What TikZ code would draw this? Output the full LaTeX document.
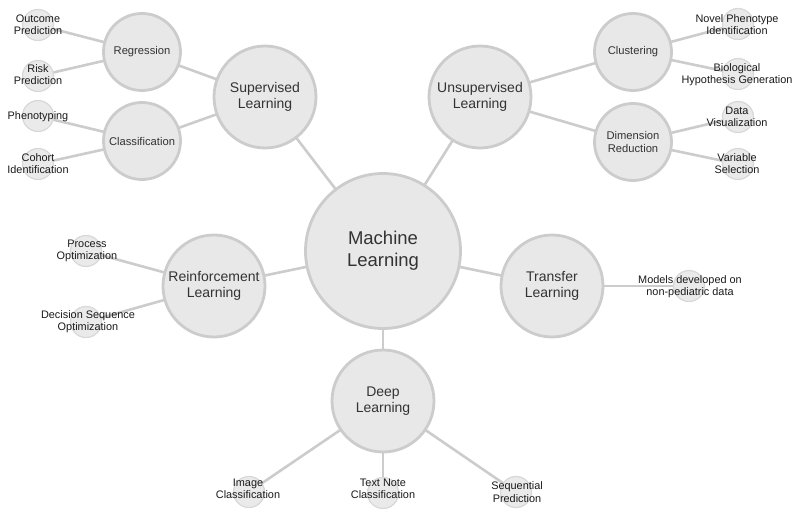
\documentclass[tikz,border=0pt]{standalone}
\usepackage{fontspec}
\setmainfont{Liberation Sans}
\usetikzlibrary{backgrounds}

\definecolor{nodefill}{HTML}{E8E8E8}
\definecolor{leaffill}{HTML}{EAEAEA}
\definecolor{nodeline}{HTML}{CCCCCC}
\definecolor{leafline}{HTML}{D8D8D8}
\definecolor{textgray}{HTML}{333333}
\definecolor{leaftextc}{HTML}{1A1A1A}

\begin{document}
\begin{tikzpicture}[
    x=1pt, y=-1pt,
    bubble/.style={circle, draw=nodeline, fill=nodefill, line width=2.8pt, inner sep=0pt, align=center, text=textgray},
    root/.style={bubble, minimum size=155pt, font=\fontsize{18.5}{22}\selectfont},
    topic/.style={bubble, minimum size=102pt, font=\fontsize{14}{16}\selectfont},
    method/.style={bubble, minimum size=77pt, font=\fontsize{11.2}{12.5}\selectfont},
    leaf/.style={circle, draw=leafline, fill=leaffill, line width=1.2pt, minimum size=31pt, inner sep=0pt},
    leaftext/.style={align=center, inner sep=0pt, text=leaftextc, font=\fontsize{10.9}{12.2}\selectfont},
    link/.style={draw=nodeline, line width=2.6pt}
]
    \useasboundingbox (0,0) rectangle (800,513);

    % main topics
    \node [root] (ml) at (383,251) {Machine\\Learning};
    \node [topic] (sl) at (265,97) {Supervised\\Learning};
    \node [topic] (ul) at (480,97) {Unsupervised\\Learning};
    \node [topic] (rl) at (214,286) {Reinforcement\\Learning};
    \node [topic] (tl) at (552,286) {Transfer\\Learning};
    \node [topic] (dl) at (383,401) {Deep\\Learning};

    % methods
    \node [method] (reg) at (142,52) {Regression};
    \node [method] (cls) at (142,141) {Classification};
    \node [method] (clu) at (633,52) {Clustering};
    \node [method] (dim) at (633,142) {Dimension\\Reduction};

    % applications
    \node [leaf] (outc) at (38,25) {};
    \node [leaf] (risk) at (38,76) {};
    \node [leaf] (phen) at (38,116) {};
    \node [leaf] (coho) at (38,164) {};
    \node [leaf] (novel) at (738,24) {};
    \node [leaf] (bio) at (738,74) {};
    \node [leaf] (vis) at (738,117) {};
    \node [leaf] (var) at (738,164) {};
    \node [leaf] (proc) at (86,251) {};
    \node [leaf] (dec) at (86,322) {};
    \node [leaf] (mod) at (689,286) {};
    \node [leaf] (img) at (249,492) {};
    \node [leaf] (txt) at (383,493) {};
    \node [leaf] (seq) at (516,492) {};

    \node [leaftext] (outc-l) at (38,25) {Outcome\\Prediction};
    \node [leaftext] (risk-l) at (38,75) {Risk\\Prediction};
    \node [leaftext] (phen-l) at (38,117) {Phenotyping};
    \node [leaftext] (coho-l) at (38,164) {Cohort\\Identification};
    \node [leaftext] (novel-l) at (737,25) {Novel Phenotype\\Identification};
    \node [leaftext] (bio-l) at (737,75) {Biological\\Hypothesis Generation};
    \node [leaftext] (vis-l) at (737,117) {Data\\Visualization};
    \node [leaftext] (var-l) at (737,164) {Variable\\Selection};
    \node [leaftext] (proc-l) at (87,251) {Process\\Optimization};
    \node [leaftext] (dec-l) at (88,322) {Decision Sequence\\Optimization};
    \node [leaftext] (mod-l) at (690,287) {Models developed on\\non-pediatric data};
    \node [leaftext] (img-l) at (248,489) {Image\\Classification};
    \node [leaftext] (txt-l) at (383,489) {Text Note\\Classification};
    \node [leaftext] (seq-l) at (517,492) {Sequential\\Prediction};

    % connectors behind the bubbles
    \begin{scope}[on background layer]
        \foreach \a/\b in {ml/sl, ml/ul, ml/rl, ml/tl, ml/dl,
                           sl/reg, sl/cls, ul/clu, ul/dim,
                           reg/outc, reg/risk, cls/phen, cls/coho,
                           clu/novel, clu/bio, dim/vis, dim/var,
                           rl/proc, rl/dec, tl/mod,
                           dl/img, dl/txt, dl/seq}
            \draw [link] (\a.center) -- (\b.center);
    \end{scope}
\end{tikzpicture}
\end{document}
